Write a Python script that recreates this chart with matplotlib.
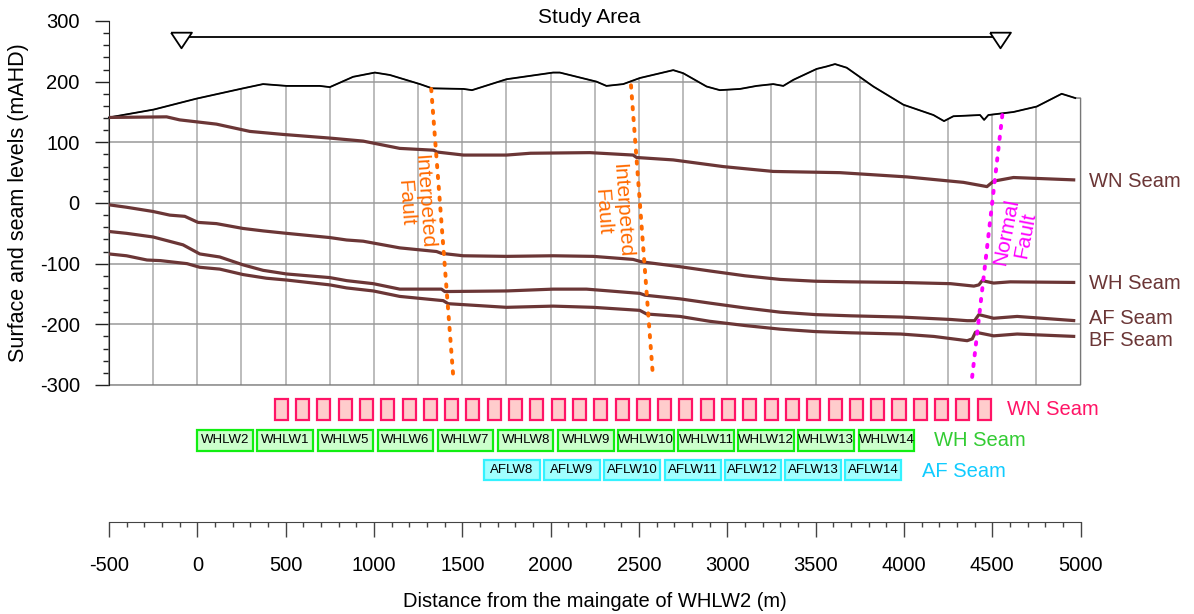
import matplotlib
matplotlib.use("Agg")
import matplotlib.pyplot as plt
from matplotlib.patches import Polygon, Rectangle
from matplotlib.ticker import MultipleLocator

plt.rcParams['font.family'] = ['Liberation Sans', 'DejaVu Sans']
plt.rcParams['axes.unicode_minus'] = False

# ground surface (m, mAHD)
surface_x = [-500, -247, -5, 259, 372, 505, 693, 750, 882, 1005, 1090, 1260, 1329, 1507, 1555,
             1750, 2014, 2052, 2260, 2316, 2411, 2505, 2694, 2750, 2883, 2958, 3072, 3166, 3260,
             3317, 3374, 3506, 3562, 3610, 3676, 3827, 3997, 4167, 4227, 4280, 4431, 4454, 4478,
             4620, 4752, 4893, 4970]
surface_y = [141, 154, 172, 189, 196, 193, 193, 191, 208, 215, 211, 196, 189, 188, 186,
             204, 215, 215, 200, 193, 196, 206, 219, 214, 192, 186, 188, 193, 196,
             193, 203, 221, 225, 229, 223, 192, 162, 145, 135, 143, 145, 137, 145,
             150, 159, 180, 173]

# seams
wn_x = [-500, -174, -100, 108, 297, 486, 750, 939, 1146, 1338, 1357, 1507, 1750, 1886, 2222,
        2467, 2487, 2694, 2977, 3260, 3638, 4016, 4337, 4470, 4508, 4620, 4970]
wn_y = [141, 142, 137, 130, 118, 113, 107, 102, 90, 87, 84, 79, 79, 82, 83,
        79, 75, 71, 60, 52, 50, 43, 34, 27, 36, 42, 38]

wh_x = [-500, -401, -251, -156, -71, 4, 108, 259, 372, 504, 750, 845, 939, 1146, 1354, 1382,
        1505, 1750, 2014, 2241, 2467, 2515, 2732, 2900, 3100, 3300, 3500, 3700, 3981, 4264,
        4396, 4424, 4443, 4508, 4602, 4970]
wh_y = [-3, -7, -14, -20, -22, -32, -34, -42, -46, -50, -57, -61, -63, -74, -80, -83,
        -87, -88, -87, -88, -93, -97, -105, -112, -120, -126, -129, -130, -131, -133,
        -137, -135, -128, -132, -130, -131]

af_x = [-500, -401, -251, -81, 14, 127, 259, 372, 505, 750, 845, 996, 1146, 1382, 1401, 1750,
        2014, 2203, 2505, 2534, 2732, 2900, 3100, 3300, 3500, 3700, 3981, 4264, 4358, 4400,
        4424, 4508, 4641, 4970]
af_y = [-47, -50, -56, -69, -84, -89, -102, -111, -117, -123, -128, -133, -142, -142, -146, -145,
        -142, -142, -149, -152, -158, -165, -173, -180, -184, -186, -188, -192, -194, -194,
        -184, -190, -187, -194]

bf_x = [-500, -401, -285, -209, -58, 14, 127, 259, 391, 505, 750, 845, 996, 1146, 1392, 1420,
        1750, 2014, 2241, 2505, 2543, 2732, 2900, 3100, 3300, 3500, 3700, 3981, 4170, 4358,
        4387, 4405, 4508, 4641, 4970]
bf_y = [-84, -87, -94, -95, -100, -106, -109, -118, -124, -127, -135, -140, -145, -154, -161, -166,
        -172, -170, -172, -177, -183, -187, -195, -202, -208, -212, -214, -216, -220, -227,
        -224, -213, -219, -216, -220]

seam_names = ["WN Seam", "WH Seam", "AF Seam", "BF Seam"]
seam_label_y = [36, -132, -190, -226]

# faults
fault1_x = [1324, 1449]
fault1_y = [188, -287]
fault2_x = [2455, 2580]
fault2_y = [194, -289]
normal_x = [4557, 4381]
normal_y = [145, -300]

# study area limits
study_x = [-90, 4545]

# longwall panels (left edge, m)
wn_panels = [438, 559, 679, 800, 920, 1041, 1162, 1282, 1403, 1523, 1644, 1765, 1885, 2006,
             2126, 2247, 2368, 2488, 2609, 2729, 2850, 2971, 3091, 3212, 3332, 3453, 3574,
             3694, 3815, 3935, 4056, 4177, 4297, 4418]
wh_panels = [0, 340, 681, 1021, 1361, 1702, 2042, 2382, 2723, 3063, 3403, 3744]
wh_names = ["WHLW2", "WHLW1", "WHLW5", "WHLW6", "WHLW7", "WHLW8", "WHLW9", "WHLW10",
            "WHLW11", "WHLW12", "WHLW13", "WHLW14"]
af_panels = [1622, 1963, 2304, 2645, 2986, 3327, 3668]
af_names = ["AFLW8", "AFLW9", "AFLW10", "AFLW11", "AFLW12", "AFLW13", "AFLW14"]

brown = "#6b3636"
orange = "#ff6a00"

fig = plt.figure(figsize=(11.94, 6.14), dpi=100)
ax = fig.add_axes([0.0913, 0.373, 0.8137, 0.5928])
ax.set_xlim(-500, 5000)
ax.set_ylim(-300, 300)

# area below the ground surface, used to clip the grid
poly_x = surface_x + [5000, 5000, -500]
poly_y = surface_y + [surface_y[-1], -300, -300]
ground = Polygon(list(zip(poly_x, poly_y)), closed=True, facecolor="none",
                 edgecolor="#777777", lw=1.0, transform=ax.transData, clip_on=False, zorder=2)
ax.add_patch(ground)

vg = ax.vlines(range(-250, 5000, 250), -300, 300, colors="#aaaaaa", lw=1.1, zorder=1)
vg.set_clip_path(ground)
hg = ax.hlines([-200, -100, 0, 100, 200], -500, 5000, colors="#999999", lw=1.1, zorder=1)
hg.set_clip_path(ground)

ax.plot(surface_x, surface_y, color="black", lw=1.3, zorder=4, clip_on=False)
for sx, sy in [(wn_x, wn_y), (wh_x, wh_y), (af_x, af_y), (bf_x, bf_y)]:
    ax.plot(sx, sy, color=brown, lw=2.3, zorder=4, solid_capstyle="butt")
for name, yy in zip(seam_names, seam_label_y):
    ax.text(5045, yy, name, color=brown, fontsize=14.5, va="center", ha="left", clip_on=False)

# faults
for fx, fy in [(fault1_x, fault1_y), (fault2_x, fault2_y)]:
    ax.plot(fx, fy, color=orange, lw=2.8, linestyle=(0, (0.6, 2.2)),
            dash_capstyle="round", zorder=5)
ax.plot(normal_x, normal_y, color="#ff00ff", lw=2.8, linestyle=(0, (0.6, 2.2)),
        dash_capstyle="round", zorder=5, clip_on=False)
ax.text(1231, 2, "Interpeted\nFault", color=orange, fontsize=15, rotation=-86,
        ha="center", va="center", multialignment="center", linespacing=1.0)
ax.text(2347, -13, "Interpeted\nFault", color=orange, fontsize=15, rotation=-86,
        ha="center", va="center", multialignment="center", linespacing=1.0)
ax.text(4632, -50, "Normal\nFault", color="#ff00ff", fontsize=15, rotation=79,
        ha="center", va="center", multialignment="center", linespacing=1.0)

# study area
ax.plot(study_x, [274, 274], color="black", lw=1.3, clip_on=False, zorder=5)
tri = [(-1, 0.75), (1, 0.75), (0, -0.75), (-1, 0.75)]
ax.plot(study_x, [268, 268], linestyle="none", marker=tri, ms=15, mfc="white",
        mec="black", mew=1.3, clip_on=False, zorder=6)
ax.text(2216, 306, "Study Area", fontsize=15, ha="center", va="center", clip_on=False)

# longwall panels
for px in wn_panels:
    ax.add_patch(Rectangle((px, -357.5), 74, 34, facecolor="#ffcccc", edgecolor="#ff1466",
                           lw=1.6, clip_on=False))
for px, name in zip(wh_panels, wh_names):
    ax.add_patch(Rectangle((px, -408.5), 314, 34.5, facecolor="#ccffcc", edgecolor="#11ee11",
                           lw=1.6, clip_on=False))
    ax.text(px + 157, -391.5, name, fontsize=9.5, ha="center", va="center", clip_on=False)
for px, name in zip(af_panels, af_names):
    ax.add_patch(Rectangle((px, -456.5), 317, 33, facecolor="#a0ffff", edgecolor="#33f2ff",
                           lw=1.6, clip_on=False))
    ax.text(px + 158, -440.5, name, fontsize=9.5, ha="center", va="center", clip_on=False)
ax.text(4583, -341, "WN Seam", color="#ff1466", fontsize=14.5, va="center", clip_on=False)
ax.text(4170, -391, "WH Seam", color="#33cc33", fontsize=14.5, va="center", clip_on=False)
ax.text(4102, -442, "AF Seam", color="#11ccff", fontsize=14.5, va="center", clip_on=False)

# axes styling
for side in ["top", "right"]:
    ax.spines[side].set_visible(False)
ax.spines["left"].set_color("#222222")
ax.spines["bottom"].set_position(("outward", 98.6))
ax.spines["bottom"].set_color("#444444")

ax.yaxis.set_major_locator(MultipleLocator(100))
ax.yaxis.set_minor_locator(MultipleLocator(20))
ax.xaxis.set_major_locator(MultipleLocator(500))
ax.xaxis.set_minor_locator(MultipleLocator(100))
ax.tick_params(axis="y", which="major", length=10, width=1, pad=11, labelsize=14.5,
               color="#222222")
ax.tick_params(axis="y", which="minor", length=4.3, width=1, color="#222222")
ax.tick_params(axis="x", which="major", length=10.8, width=1, pad=14, labelsize=14.5,
               color="#444444")
ax.tick_params(axis="x", which="minor", length=3.8, width=1, color="#444444")

ax.set_ylabel("Surface and seam levels (mAHD)", fontsize=15.5, labelpad=8)
ax.set_xlabel("Distance from the maingate of WHLW2 (m)", fontsize=14.5, labelpad=12)

fig.savefig("out.png", dpi=100)
